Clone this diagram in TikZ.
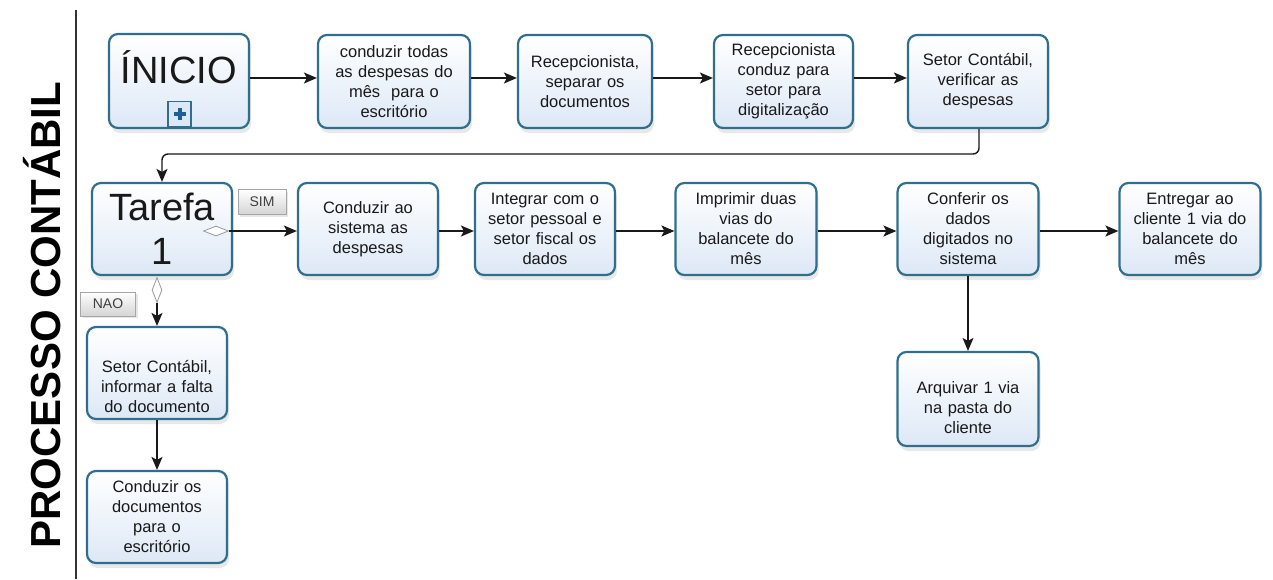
\documentclass[tikz,border=0pt]{standalone}
\usepackage{fontspec}
\setmainfont{Liberation Sans}
\newfontfamily\titlefont{Liberation Sans Bold}
\usetikzlibrary{arrows.meta,shapes.geometric,shadows}
\definecolor{bordc}{HTML}{2F6E8C}
\definecolor{fillc}{HTML}{DDE8F6}
\definecolor{plusc}{HTML}{1F5F9A}
\definecolor{labc}{HTML}{D4D4D4}
\tikzset{
  task/.style={draw=bordc, line width=2.2pt, rounded corners=9pt,
    top color=white, bottom color=fillc,
    drop shadow={opacity=0.18, shadow xshift=2pt, shadow yshift=-5pt},
    align=center, inner sep=2pt, text=black!90,
    font=\fontsize{16.5}{20}\selectfont},
  bigtask/.style={task, font=\fontsize{38}{44}\selectfont},
  flow/.style={line width=1.4pt, draw=black!90, -{Stealth[length=13pt,width=11pt,inset=3pt]}},
  gatelab/.style={draw=gray!70, line width=0.6pt, top color=white, bottom color=labc,
    drop shadow={opacity=0.2, shadow xshift=2pt, shadow yshift=-2pt},
    font=\fontsize{14}{16}\selectfont, text=black!75, inner sep=0pt},
  gmark/.style={diamond, draw=gray!80, line width=0.8pt, fill=white, inner sep=0pt},
}
\begin{document}
\begin{tikzpicture}[x=1pt,y=-1pt]
\useasboundingbox (0,0) rectangle (1273,579);
% lane
\node[rotate=90, font=\titlefont\fontsize{42}{42}\selectfont, text=black] (title) at (42,315) {PROCESSO CONTÁBIL};
\coordinate (lt) at (76,10);
\coordinate (lb) at (76,579);
\draw[line width=1.4pt, black!80] (lt) -- (lb);
% row 1
\node[bigtask, minimum width=140pt, minimum height=94pt, text depth=28pt] (ini) at (179,81) {ÍNICIO};
\node[task, minimum width=152pt, minimum height=93pt, text width=146pt] (b2) at (394,81.5) {conduzir todas\\as despesas do\\mês\ \ para o\\escritório};
\node[task, minimum width=134pt, minimum height=93pt, text width=128pt] (b3) at (585,81.5) {Recepcionista,\\separar os\\documentos};
\node[task, minimum width=139pt, minimum height=93pt, text width=133pt] (b4) at (783.5,81.5) {Recepcionista\\conduz para\\setor para\\digitalização};
\node[task, minimum width=140pt, minimum height=93pt, text width=134pt] (b5) at (978,81.5) {Setor Contábil,\\verificar as\\despesas};
% plus marker
\node[draw=bordc, line width=1.6pt, fill=fillc, minimum width=23pt, minimum height=25pt, inner sep=0pt] (pm) at (179.5,114) {};
\draw[plusc, line width=4pt] ([yshift=-6pt]pm.center) -- ([yshift=6pt]pm.center);
\draw[plusc, line width=4pt] ([xshift=-6pt]pm.center) -- ([xshift=6pt]pm.center);
% row 2
\node[bigtask, minimum width=140pt, minimum height=92pt] (t1) at (162,229) {Tarefa\\1};
\node[task, minimum width=140pt, minimum height=92pt, text width=134pt] (c1) at (368,229) {Conduzir ao\\sistema as\\despesas};
\node[task, minimum width=140pt, minimum height=92pt, text width=134pt] (c2) at (545,229) {Integrar com o\\setor pessoal e\\setor fiscal os\\dados};
\node[task, minimum width=141pt, minimum height=92pt, text width=135pt] (c3) at (746,229) {Imprimir duas\\vias do\\balancete do\\mês};
\node[task, minimum width=141pt, minimum height=92pt, text width=135pt] (c4) at (968,229) {Conferir os\\dados\\digitados no\\sistema};
\node[task, minimum width=141pt, minimum height=92pt, text width=135pt] (c5) at (1190,229) {Entregar ao\\cliente 1 via do\\balancete do\\mês};
\node[task, minimum width=141pt, minimum height=94pt, text width=135pt, text depth=22pt] (arq) at (968,399) {Arquivar 1 via\\na pasta do\\cliente};
\node[task, minimum width=140pt, minimum height=92pt, text width=134pt, text depth=14pt] (n1) at (157,373) {Setor Contábil,\\informar a falta\\do documento};
\node[task, minimum width=140pt, minimum height=92pt, text width=134pt] (n2) at (157,517) {Conduzir os\\documentos\\para o\\escritório};
% gateway markers and labels
\node[gmark, minimum width=25pt, minimum height=10pt] (dsim) at (216,231) {};
\node[gmark, minimum width=10pt, minimum height=25pt] (dnao) at (157,290) {};
\node[gatelab, minimum width=48pt, minimum height=25pt] (lsim) at (262,202) {SIM};
\node[gatelab, minimum width=55pt, minimum height=24pt] (lnao) at (108,304) {NAO};
% connectors row 1
\draw[flow] (ini.east |- 0,78) -- (b2.west |- 0,78);
\draw[flow] (b2.east |- 0,78) -- (b3.west |- 0,78);
\draw[flow] (b3.east |- 0,78) -- (b4.west |- 0,78);
\draw[flow] (b4.east |- 0,78) -- (b5.west |- 0,78);
% return connector
\coordinate (r1) at (979,154);
\coordinate (r2) at (162,154);
\draw[flow, rounded corners=6pt] (b5.south -| r1) -- (r1) -- (r2) -- (t1.north);
% row 2 connectors
\draw[flow] (dsim.east) -- (c1.west |- dsim.east);
\draw[flow] (c1.east |- 0,231) -- (c2.west |- 0,231);
\draw[flow] (c2.east |- 0,231) -- (c3.west |- 0,231);
\draw[flow] (c3.east |- 0,231) -- (c4.west |- 0,231);
\draw[flow] (c4.east |- 0,231) -- (c5.west |- 0,231);
\draw[flow] (c4.south) -- (arq.north);
\draw[flow] (dnao.south) -- (n1.north);
\draw[flow] (n1.south) -- (n2.north);
\end{tikzpicture}
\end{document}
